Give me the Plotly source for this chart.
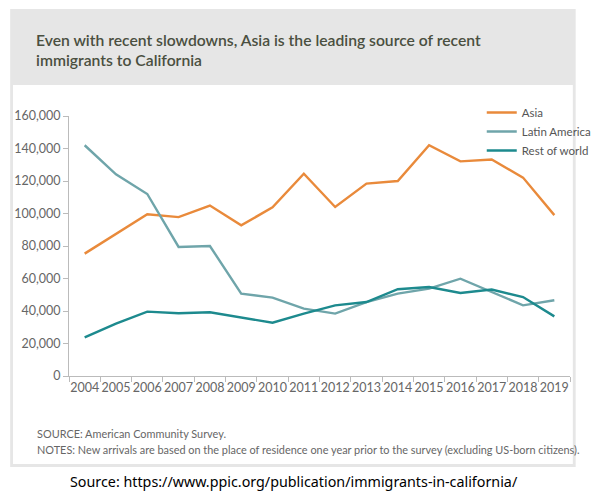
import plotly.graph_objects as go

years = [str(y) for y in range(2004, 2020)]
asia = [75300, 87500, 99500, 97800, 104900, 92700, 103800, 124500, 104000,
        118400, 120000, 142000, 132100, 133200, 122100, 99000]
latin_america = [142000, 124100, 112000, 79400, 80000, 50700, 48200, 41500, 38400,
                 45500, 50700, 53800, 59900, 51700, 43500, 46600]
rest_of_world = [23800, 32200, 39600, 38600, 39200, 36100, 32800, 38400, 43500,
                 45500, 53400, 54800, 51100, 53200, 48600, 36700]

series_names = ["Asia", "Latin America", "Rest of world"]
series_colors = ["#E98A3B", "#6FA5AA", "#1D8A8E"]

title_text = ("Even with recent slowdowns, Asia is the leading source of recent<br>"
              "immigrants to California")
source_text = "SOURCE: American Community Survey."
notes_text = ("NOTES: New arrivals are based on the place of residence one year prior "
              "to the survey (excluding US-born citizens).")
url_text = "Source: https://www.ppic.org/publication/immigrants-in-california/"

W, H = 603, 491
L, R, T, B = 69, 6, 116, 115
PW, PH = W - L - R, H - T - B


def px(x):
    return (x - L) / PW


def py(y):
    return (H - B - y) / PH


fig = go.Figure()
for name, vals, col in zip(series_names, [asia, latin_america, rest_of_world], series_colors):
    fig.add_trace(go.Scatter(x=years, y=vals, name=name, mode="lines",
                             line=dict(color=col, width=2.4)))

shapes = [
    dict(type="rect", xref="paper", yref="paper", x0=px(7), x1=px(603), y0=py(467), y1=py(9),
         fillcolor="#E6E6E6", line=dict(width=0), layer="below"),
    dict(type="rect", xref="paper", yref="paper", x0=px(10), x1=px(600), y0=py(464), y1=py(85),
         fillcolor="#FFFFFF", line=dict(width=0), layer="below"),
]

annotations = [
    dict(text=title_text, xref="paper", yref="paper", x=px(32), y=py(50), xanchor="left",
         yanchor="middle", align="left", showarrow=False,
         font=dict(family="Lato", size=15.7, color="#4A4F40", weight=600)),
    dict(text=source_text, xref="paper", yref="paper", x=px(33), y=py(433), xanchor="left",
         yanchor="middle", showarrow=False, font=dict(family="Lato", size=10.9, color="#666666")),
    dict(text=notes_text, xref="paper", yref="paper", x=px(33), y=py(449), xanchor="left",
         yanchor="middle", showarrow=False, font=dict(family="Lato", size=10.9, color="#666666")),
    dict(text=url_text, xref="paper", yref="paper", x=px(306), y=py(481), xanchor="center",
         yanchor="middle", showarrow=False, font=dict(family="Noto Sans", size=14.3, color="#000000")),
]

fig.update_layout(
    width=W, height=H,
    margin=dict(l=L, r=R, t=T, b=B, pad=0),
    paper_bgcolor="#FFFFFF", plot_bgcolor="rgba(0,0,0,0)",
    shapes=shapes, annotations=annotations,
    font=dict(family="Lato", color="#666666"),
    showlegend=True,
    legend=dict(x=px(504), y=py(98), xanchor="left", yanchor="top",
                bgcolor="rgba(0,0,0,0)", font=dict(size=11.5, color="#555555"),
                tracegroupgap=0, itemwidth=30),
    xaxis=dict(type="category", range=[-0.5, 15.5], tickson="boundaries", ticks="outside",
               ticklen=5, tickcolor="#BBBBBB", showline=True, linecolor="#BBBBBB",
               showgrid=False, zeroline=False, tickfont=dict(size=12.5, color="#666666"),
               tickangle=0, automargin=False, fixedrange=True),
    yaxis=dict(range=[0, 160000], tickvals=list(range(0, 160001, 20000)), tickformat=",",
               ticks="outside", ticklen=5, tickcolor="#BBBBBB", showline=True,
               linecolor="#BBBBBB", showgrid=False, zeroline=False,
               tickfont=dict(size=12.5, color="#666666"), automargin=False, fixedrange=True),
)

fig.write_html("out.html", config={"displayModeBar": False})
